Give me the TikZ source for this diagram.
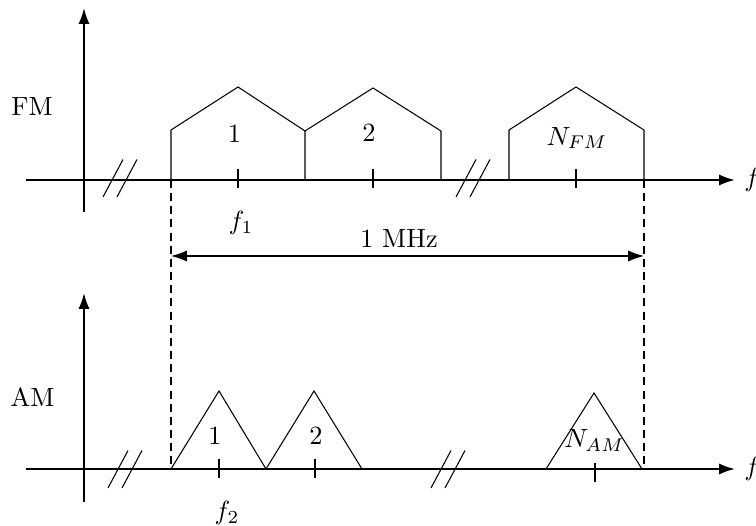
\documentclass[tikz,border=0pt]{standalone}
\usepackage{amsmath, amssymb}
\usepackage{xcolor}
\usepackage{tikz}
\usetikzlibrary{arrows.meta, positioning, calc}

\begin{document}
\begin{tikzpicture}[
    x=1.335mm, y=1.335mm,
    axis/.style={line width=0.76pt, -{Latex[length=6pt, width=4.2pt]}},
    yaxis/.style={line width=0.76pt, -{Latex[length=6pt, width=4.2pt]}},
    spec/.style={line width=0.4pt, line join=miter},
    ftick/.style={line width=0.4pt},
    brk/.style={line width=0.4pt},
    guide/.style={line width=0.4pt, dash pattern=on 3pt off 2pt},
    span/.style={line width=0.5pt, {Latex[length=6pt, width=4.2pt]}-{Latex[length=6pt, width=4.2pt]}},
    lbl/.style={inner sep=1pt, font=\normalsize}
]
    \useasboundingbox (0,0) rectangle (75.6,52.6);

    % Phổ FM (trục trên, y = 34.6)
    \coordinate (fm_start) at (2.6,34.6);
    \coordinate (fm_end) at (73.5,34.6);
    \coordinate (fm_bot) at (8.4,31.4);
    \coordinate (fm_top) at (8.4,51.8);
    \draw[axis] (fm_start) -- (fm_end);
    \draw[yaxis] (fm_bot) -- (fm_top);
    \node[right=0pt of fm_end] (fm_f) {$f$};
    \node[lbl] (fm_name) at (3.2,41.9) {FM};

    \draw[spec] (17.1,34.6) -- (17.1,39.6) -- (23.8,43.9) -- (30.5,39.5) -- (30.5,34.6);
    \draw[spec] (30.5,39.5) -- (37.3,43.8) -- (44.1,39.5) -- (44.1,34.6);
    \draw[spec] (50.9,34.6) -- (50.9,39.6) -- (57.6,43.9) -- (64.4,39.6) -- (64.4,34.6);
    \foreach \tx in {23.8, 37.3, 57.6}
        \draw[ftick] (\tx,33.8) -- (\tx,35.7);

    \node[lbl] (fm_one) at (23.45,39.25) {1};
    \node[lbl] (fm_two) at (36.9,39.3) {2};
    \node[lbl] (fm_n) at (57.7,38.8) {$N_{FM}$};
    \node[lbl] (fm_f1) at (24.1,30.3) {$f_1$};

    % Phổ AM (trục dưới, y = 5.7)
    \coordinate (am_start) at (2.6,5.7);
    \coordinate (am_end) at (73.5,5.7);
    \coordinate (am_bot) at (8.4,2.4);
    \coordinate (am_top) at (8.4,23.3);
    \draw[axis] (am_start) -- (am_end);
    \draw[yaxis] (am_bot) -- (am_top);
    \node[right=0pt of am_end] (am_f) {$f$};
    \node[lbl] (am_name) at (3.25,12.85) {AM};

    \draw[spec] (17.1,5.7) -- (21.9,13.5) -- (26.6,5.7) -- (31.4,13.5) -- (36.2,5.7);
    \draw[spec] (54.6,5.7) -- (59.4,13.3) -- (64.2,5.7);
    \foreach \tx in {21.9, 31.5}
        \draw[ftick] (\tx,4.8) -- (\tx,6.7);
    \draw[ftick] (59.5,4.4) -- (59.5,6.3);

    \node[lbl] (am_one) at (21.5,9.0) {1};
    \node[lbl] (am_two) at (31.6,9.0) {2};
    \node[lbl] (am_n) at (59.45,8.55) {$N_{AM}$};
    \node[lbl] (am_f2) at (22.7,1.3) {$f_2$};

    % Dấu ngắt trục
    \foreach \bx/\by in {10.3/32.9, 11.7/32.9, 45.6/32.9, 47.0/32.9, 10.8/3.8, 12.2/3.8, 43.1/3.8, 44.5/3.8}
        \draw[brk] (\bx,\by) -- ++(2.0,3.75);

    % Đường gióng và khoảng 1 MHz
    \coordinate (band_l) at (17.1,34.6);
    \coordinate (band_r) at (64.4,34.6);
    \coordinate (band_lb) at (17.1,5.7);
    \coordinate (band_rb) at (64.4,5.7);
    \draw[guide] (band_l) -- (band_lb);
    \draw[guide] (band_r) -- (band_rb);
    \coordinate (mhz_l) at (17.1,27.0);
    \coordinate (mhz_r) at (64.4,27.0);
    \draw[span] (mhz_l) -- (mhz_r);
    \node[lbl] (mhz) at (39.9,28.75) {1 MHz};
\end{tikzpicture}
\end{document}
